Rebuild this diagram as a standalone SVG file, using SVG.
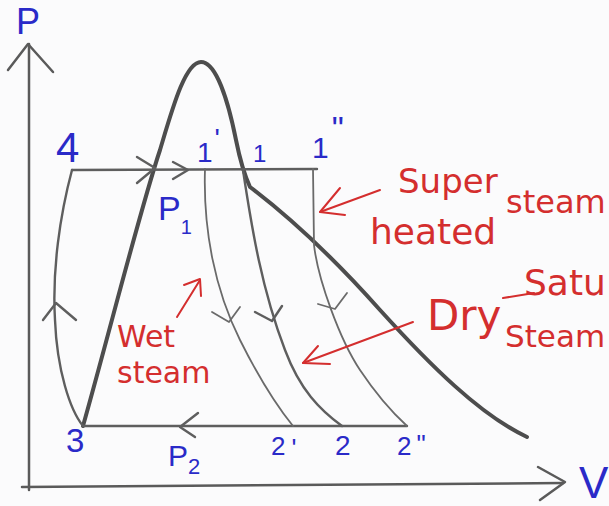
<svg xmlns="http://www.w3.org/2000/svg" width="609" height="506" viewBox="0 0 609 506">
<defs>
<style>
.bg{fill:#fbfbfc}
.ax{fill:none;stroke:#5a5a5a;stroke-width:2.5;stroke-linecap:round;stroke-linejoin:round}
.dome{fill:none;stroke:#4d4d4d;stroke-width:4;stroke-linecap:round;stroke-linejoin:round}
.ln{fill:none;stroke:#5e5e5e;stroke-width:2.4;stroke-linecap:round;stroke-linejoin:round}
.thin{fill:none;stroke:#6a6a6a;stroke-width:1.8;stroke-linecap:round;stroke-linejoin:round}
.red{fill:none;stroke:#d42e2e;stroke-width:2;stroke-linecap:round;stroke-linejoin:round}
.b{fill:#2a2ac8;font-family:"Liberation Sans",Arial,sans-serif}
.r{fill:#d42e2e;font-family:"DejaVu Sans",sans-serif}
</style>
</defs>
<rect class="bg" x="0" y="0" width="609" height="506"/>

<g id="connectors">
  <!-- axes -->
  <path class="ax" d="M29,490 L29,44"/>
  <path class="ax" d="M8,70 L28,44 L53,72"/>
  <path class="ax" d="M22,487 L563,483"/>
  <path class="ax" d="M538,467 L565,482 L540,500"/>
  <!-- saturation dome -->
  <path class="dome" d="M83,426 C110,330 140,210 160,150 C172,110 185,62 201,62 C216,62 228,100 236,140 C240,160 243,172 250,187 C300,225 340,265 380,310 C430,365 480,415 527,437"/>
  <!-- 4 -> 1'' constant pressure line -->
  <path class="ln" d="M72,170 L317,169"/>
  <path class="ln" d="M137,157 L155,168 L137,183"/>
  <path class="ln" d="M173,162 L188,170 L173,179"/>
  <!-- 3 -> 4 -->
  <path class="ln" d="M72,170 C60,215 52,270 55,320 C57,370 70,410 83,426"/>
  <path class="ln" d="M43,320 L56,303 L76,320"/>
  <!-- 2'' -> 3 -->
  <path class="ln" d="M83,426 L407,426"/>
  <path class="ln" d="M198,413 L180,427 L195,437"/>
  <!-- 1' -> 2' -->
  <path class="thin" d="M205,169 C203,230 215,290 240,340 C260,380 280,410 293,426"/>
  <path class="thin" d="M212,312 L229,322 L240,307"/>
  <!-- 1 -> 2 -->
  <path class="ln" d="M243,170 C252,230 262,290 285,350 C300,390 320,410 342,426"/>
  <path class="ln" d="M255,312 L272,321 L282,306"/>
  <!-- 1'' -> 2'' -->
  <path class="thin" d="M313,169 L314,245 C318,280 340,340 360,370 C380,400 395,415 407,426"/>
  <path class="thin" d="M318,304 L335,309 L347,293"/>
  <!-- red pointer arrows -->
  <path class="red" d="M380,190 L320,212"/>
  <path class="red" d="M340,188 L320,212 L345,215"/>
  <path class="red" d="M413,322 L303,363"/>
  <path class="red" d="M318,346 L303,363 L330,364"/>
  <path class="red" d="M177,317 L200,280"/>
  <path class="red" d="M184,285 L200,279 L201,296"/>
  <path class="red" d="M503,298 L534,293"/>
</g>

<g id="axis-P"><text class="b" x="16" y="34" font-size="36">P</text></g>
<g id="axis-V"><text class="b" x="579" y="498" font-size="44">V</text></g>
<g id="point-4"><text class="b" x="56" y="162" font-size="42">4</text></g>
<g id="point-1p"><text class="b" x="197" y="162" font-size="28">1<tspan dx="2" dy="-14">'</tspan></text></g>
<g id="point-1"><text class="b" x="253" y="162" font-size="24">1</text></g>
<g id="point-1pp"><text class="b" x="312" y="158" font-size="30">1<tspan dx="3" dy="-18" font-size="34">"</tspan></text></g>
<g id="label-P1"><text class="b" x="158" y="220" font-size="34">P<tspan dy="14" font-size="20">1</tspan></text></g>
<g id="point-3"><text class="b" x="66" y="452" font-size="33">3</text></g>
<g id="label-P2"><text class="b" x="168" y="466" font-size="30">P<tspan dy="8" font-size="22">2</tspan></text></g>
<g id="point-2p"><text class="b" x="271" y="455" font-size="26">2<tspan dx="6" dy="2">'</tspan></text></g>
<g id="point-2"><text class="b" x="335" y="455" font-size="28">2</text></g>
<g id="point-2pp"><text class="b" x="397" y="455" font-size="26">2<tspan dx="5" dy="-2">"</tspan></text></g>

<g id="label-superheated">
  <text class="r" x="398" y="193" font-size="34">Super</text>
  <text class="r" x="370" y="244" font-size="36">heated</text>
  <text class="r" x="506" y="213" font-size="32">steam</text>
</g>
<g id="label-drysat">
  <text class="r" x="427" y="330" font-size="42">Dry</text>
  <text class="r" x="524" y="295" font-size="36">Satu</text>
  <text class="r" x="505" y="347" font-size="31">Steam</text>
</g>
<g id="label-wet">
  <text class="r" x="117" y="347" font-size="30">Wet</text>
  <text class="r" x="117" y="383" font-size="30">steam</text>
</g>
</svg>
